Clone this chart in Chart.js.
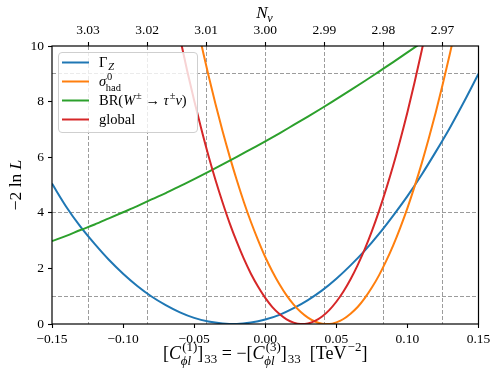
<!DOCTYPE html>
<html lang="en">
<head>
<meta charset="UTF-8">
<script src="https://cdn.jsdelivr.net/npm/chart.js"></script>
<title>-2 ln L scan</title>
<style>
  body { margin: 0; background: #fff; }
  #chart { display: block; }
</style>
</head>
<body>
<canvas id="chart" width="499" height="385"></canvas>
<script>
// values
var gammaX = [-0.15, -0.14, -0.13, -0.12, -0.11, -0.10, -0.09, -0.08, -0.07, -0.06, -0.05,
              -0.04, -0.03, -0.02, -0.01, 0.00, 0.01, 0.02, 0.03, 0.04, 0.05,
              0.06, 0.07, 0.08, 0.09, 0.10, 0.11, 0.12, 0.13, 0.14, 0.15];
var gammaY = [5.05, 4.22, 3.50, 2.88, 2.31, 1.81, 1.37, 0.99, 0.68, 0.42, 0.22,
              0.09, 0.02, 0.00, 0.05, 0.16, 0.33, 0.57, 0.86, 1.21, 1.63,
              2.11, 2.64, 3.24, 3.90, 4.60, 5.37, 6.20, 7.07, 8.01, 9.00];

var sigmaX = [-0.045, -0.04, -0.035, -0.03, -0.025, -0.02, -0.015, -0.01, -0.005, 0.00,
              0.005, 0.01, 0.015, 0.02, 0.025, 0.03, 0.035, 0.04, 0.045, 0.05,
              0.055, 0.06, 0.065, 0.07, 0.075, 0.08, 0.085, 0.09, 0.095, 0.10,
              0.105, 0.11, 0.115, 0.12, 0.125, 0.13, 0.135];
var sigmaY = [10.07, 8.96, 7.91, 6.93, 6.02, 5.17, 4.38, 3.66, 3.01, 2.41,
              1.89, 1.43, 1.03, 0.70, 0.43, 0.23, 0.09, 0.01, 0.00, 0.06,
              0.18, 0.37, 0.61, 0.93, 1.31, 1.75, 2.26, 2.83, 3.47, 4.17,
              4.94, 5.77, 6.67, 7.63, 8.66, 9.75, 10.90];

var brX = [-0.15, -0.14, -0.13, -0.12, -0.11, -0.10, -0.09, -0.08, -0.07, -0.06, -0.05,
           -0.04, -0.03, -0.02, -0.01, 0.00, 0.01, 0.02, 0.03, 0.04, 0.05,
           0.06, 0.07, 0.08, 0.09, 0.10, 0.11];
var brY = [2.98, 3.17, 3.38, 3.58, 3.80, 4.02, 4.24, 4.48, 4.71, 4.96, 5.21,
           5.47, 5.74, 6.01, 6.29, 6.57, 6.86, 7.16, 7.46, 7.77, 8.09,
           8.41, 8.74, 9.08, 9.42, 9.77, 10.12];

var globalX = [-0.06, -0.055, -0.05, -0.045, -0.04, -0.035, -0.03, -0.025, -0.02, -0.015,
               -0.01, -0.005, 0.00, 0.005, 0.01, 0.015, 0.02, 0.025, 0.03, 0.035,
               0.04, 0.045, 0.05, 0.055, 0.06, 0.065, 0.07, 0.075, 0.08, 0.085,
               0.09, 0.095, 0.10, 0.105, 0.11, 0.115];
var globalY = [10.30, 9.13, 8.04, 7.02, 6.06, 5.18, 4.37, 3.62, 2.95, 2.34,
               1.80, 1.34, 0.94, 0.61, 0.36, 0.17, 0.05, 0.00, 0.02, 0.11,
               0.27, 0.50, 0.80, 1.17, 1.61, 2.12, 2.69, 3.34, 4.06, 4.85,
               5.70, 6.63, 7.62, 8.69, 9.82, 11.03];

var seriesNames = ['ΓZ', 'σ0had', 'BR(W± → τ±ν)', 'global'];
var seriesColors = ['#1f77b4', '#ff7f0e', '#2ca02c', '#d62728'];

var bottomTicks = [-0.15, -0.10, -0.05, 0.00, 0.05, 0.10, 0.15];
var topTicks = [2.97, 2.98, 2.99, 3.00, 3.01, 3.02, 3.03];   // N_nu
var nuAtLeft = 3.0361, nuAtRight = 2.9639;
var yTicks = [0, 2, 4, 6, 8, 10];
var refLevels = [1, 4, 9];   // 1, 2, 3 sigma

// rich-text pieces for labels that need sub/superscripts
var legendParts = [
  [{t: 'Γ', sub: 'Z', subIt: true}],
  [{t: 'σ', it: true, sup: '0', sub: 'had'}],
  [{t: 'BR('}, {t: 'W', it: true, sup: '±'}, {t: ' → '}, {t: 'τ', it: true, sup: '±'}, {t: 'ν', it: true}, {t: ')'}],
  [{t: 'global'}]
];
var xTitleParts = [
  {t: '['}, {t: 'C', it: true, sup: '(1)', sub: 'ϕl', subIt: true}, {t: ']', sub: '33'},
  {t: ' = −['}, {t: 'C', it: true, sup: '(3)', sub: 'ϕl', subIt: true}, {t: ']', sub: '33'},
  {t: '  [TeV', sup: '−2'}, {t: ']'}
];
var topTitleParts = [{t: 'N', it: true, sub: 'ν', subIt: true}];
var yTitleParts = [{t: '−2 ln '}, {t: 'L', it: true}];

var FAMILY = "'Liberation Serif', 'DejaVu Serif', serif";
var GRID = '#9c9c9c';
var SCRIPT = 0.72;

function fnt(size, it) {
  return (it ? 'italic ' : '') + size + 'px ' + FAMILY;
}

function partWidth(ctx, p, size) {
  var w = 0, s = 0;
  if (p.t) { ctx.font = fnt(size, p.it); w = ctx.measureText(p.t).width; }
  if (p.sup) { ctx.font = fnt(size * SCRIPT, p.supIt); s = Math.max(s, ctx.measureText(p.sup).width); }
  if (p.sub) { ctx.font = fnt(size * SCRIPT, p.subIt); s = Math.max(s, ctx.measureText(p.sub).width); }
  return w + s + (s ? size * 0.06 : 0);
}

function drawRich(ctx, parts, x, y, size, align) {
  var total = 0;
  parts.forEach(function (p) { total += partWidth(ctx, p, size); });
  var cx = align === 'center' ? x - total / 2 : x;
  ctx.textAlign = 'left';
  ctx.textBaseline = 'alphabetic';
  parts.forEach(function (p) {
    var w = 0;
    if (p.t) {
      ctx.font = fnt(size, p.it);
      ctx.fillText(p.t, cx, y);
      w = ctx.measureText(p.t).width;
    }
    var sx = cx + w + size * 0.06;
    if (p.sup) {
      ctx.font = fnt(size * SCRIPT, p.supIt);
      ctx.fillText(p.sup, sx, y - size * 0.42);
    }
    if (p.sub) {
      ctx.font = fnt(size * SCRIPT, p.subIt);
      ctx.fillText(p.sub, sx - (p.it ? size * 0.08 : 0), y + size * (p.sup ? 0.32 : 0.22));
    }
    cx += partWidth(ctx, p, size);
  });
}

function pts(xs, ys) {
  return xs.map(function (x, i) { return {x: x, y: ys[i]}; });
}

function fmtNum(v, d) {
  return v.toFixed(d).replace('-', '−');
}

var decorPlugin = {
  id: 'decor',
  afterDatasetsDraw: function (chart) {
    var ctx = chart.ctx, a = chart.chartArea;
    ctx.save();
    // legend box, semi transparent like matplotlib
    var bx = 58, by = 52, bw = 139, bh = 80, r = 3.5;
    ctx.beginPath();
    ctx.roundRect(bx + 0.5, by + 0.5, bw, bh, r);
    ctx.fillStyle = 'rgba(255,255,255,0.8)';
    ctx.fill();
    ctx.strokeStyle = '#cfcfcf';
    ctx.lineWidth = 1;
    ctx.stroke();
    ctx.fillStyle = '#000';
    for (var i = 0; i < seriesNames.length; i++) {
      var ry = 62.5 + i * 19;
      ctx.beginPath();
      ctx.moveTo(62, ry);
      ctx.lineTo(89, ry);
      ctx.strokeStyle = seriesColors[i];
      ctx.lineWidth = 2;
      ctx.stroke();
      drawRich(ctx, legendParts[i], 99, ry + 4.5, 14.5, 'left');
    }
    // frame
    ctx.strokeStyle = '#000';
    ctx.lineWidth = 1.2;
    ctx.strokeRect(a.left, a.top, a.right - a.left, a.bottom - a.top);
    ctx.restore();
  },
  afterDraw: function (chart) {
    var ctx = chart.ctx, a = chart.chartArea;
    var mid = (a.left + a.right) / 2;
    ctx.save();
    ctx.fillStyle = '#000';
    drawRich(ctx, topTitleParts, mid, 18, 17, 'center');
    drawRich(ctx, xTitleParts, mid, 359, 18, 'center');
    ctx.translate(21, (a.top + a.bottom) / 2);
    ctx.rotate(-Math.PI / 2);
    drawRich(ctx, yTitleParts, 0, 0, 17.5, 'center');
    ctx.restore();
  }
};

var tickFont = {family: FAMILY, size: 13.5};

var config = {
  type: 'line',
  data: {
    datasets: [
      {label: seriesNames[0], data: pts(gammaX, gammaY), borderColor: seriesColors[0], order: 3},
      {label: seriesNames[1], data: pts(sigmaX, sigmaY), borderColor: seriesColors[1], order: 2},
      {label: seriesNames[2], data: pts(brX, brY), borderColor: seriesColors[2], order: 1},
      {label: seriesNames[3], data: pts(globalX, globalY), borderColor: seriesColors[3], order: 0}
    ]
  },
  options: {
    responsive: false,
    animation: false,
    devicePixelRatio: 1,
    layout: {padding: {left: 0, right: 20.5, top: 0, bottom: 0}},
    datasets: {
      line: {
        borderWidth: 2,
        pointRadius: 0,
        fill: false,
        cubicInterpolationMode: 'monotone'
      }
    },
    scales: {
      x: {
        type: 'linear',
        position: 'bottom',
        min: -0.15,
        max: 0.15,
        afterBuildTicks: function (s) { s.ticks = bottomTicks.map(function (v) { return {value: v}; }); },
        afterFit: function (s) { s.height = 61; },
        ticks: {
          callback: function (v) { return fmtNum(v, 2); },
          font: tickFont, color: '#000', padding: 3, maxRotation: 0, autoSkip: false
        },
        grid: {drawOnChartArea: false, tickLength: 4, tickColor: '#000', tickWidth: 1.1},
        border: {display: false}
      },
      x2: {
        type: 'linear',
        position: 'top',
        reverse: true,
        min: nuAtRight,
        max: nuAtLeft,
        afterBuildTicks: function (s) { s.ticks = topTicks.map(function (v) { return {value: v}; }); },
        afterFit: function (s) { s.height = 46; },
        ticks: {
          callback: function (v) { return fmtNum(v, 2); },
          font: tickFont, color: '#000', padding: 3, maxRotation: 0, autoSkip: false
        },
        grid: {
          drawOnChartArea: true, color: GRID, lineWidth: 1,
          tickLength: 4, tickColor: '#000', tickWidth: 1.1, tickBorderDash: []
        },
        border: {display: false, dash: [4, 2]}
      },
      y: {
        type: 'linear',
        min: 0,
        max: 10,
        afterBuildTicks: function (s) {
          var all = yTicks.concat(refLevels).sort(function (p, q) { return p - q; })
            .filter(function (v, i, arr) { return arr.indexOf(v) === i; });
          s.ticks = all.map(function (v) { return {value: v}; });
        },
        afterFit: function (s) { s.width = 52; },
        ticks: {
          callback: function (v) { return yTicks.indexOf(v) >= 0 ? String(v) : ''; },
          font: tickFont, color: '#000', padding: 4, autoSkip: false
        },
        grid: {
          color: function (c) { return c.tick && refLevels.indexOf(c.tick.value) >= 0 ? GRID : 'rgba(0,0,0,0)'; },
          tickColor: function (c) { return c.tick && yTicks.indexOf(c.tick.value) >= 0 ? '#000' : 'rgba(0,0,0,0)'; },
          lineWidth: 1, tickLength: 4, tickWidth: 1.1, tickBorderDash: []
        },
        border: {display: false, dash: [4, 2]}
      }
    },
    plugins: {
      legend: {display: false},
      tooltip: {enabled: false}
    }
  },
  plugins: [decorPlugin]
};

var ctx = document.getElementById('chart').getContext('2d');
var chart = new Chart(ctx, config);
</script>
</body>
</html>
